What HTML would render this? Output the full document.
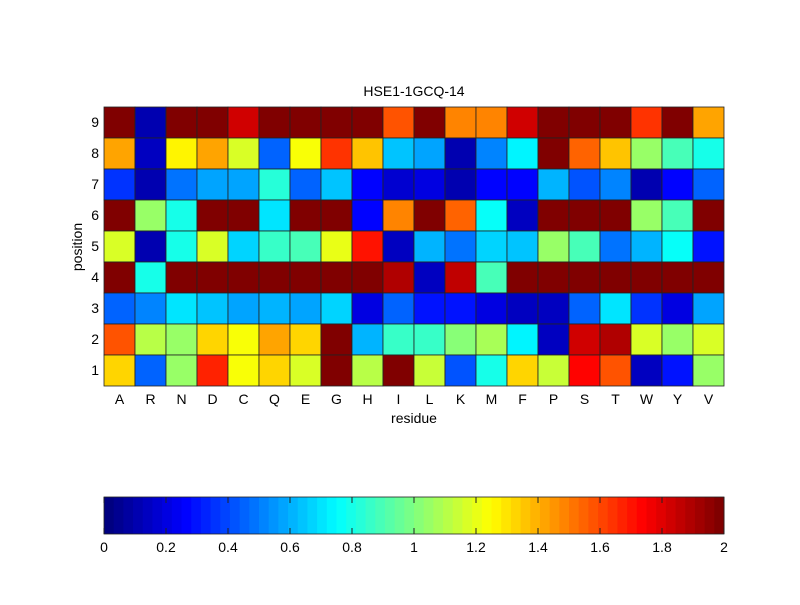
<!DOCTYPE html>
<html><head><meta charset="utf-8"><style>
body{margin:0;background:#fff;}
svg text{font-family:"Liberation Sans",Arial,sans-serif;font-size:14px;fill:#000;}
</style></head><body>
<svg id="s" width="800" height="600" xmlns="http://www.w3.org/2000/svg">
<rect width="800" height="600" fill="#fff"/>
<text x="414" y="96" text-anchor="middle">HSE1-1GCQ-14</text>
<text x="414" y="423" text-anchor="middle">residue</text>
<text transform="translate(82,247) rotate(-90)" text-anchor="middle">position</text>
<g id="g"></g>
</svg>
<script>
function jet(t){if(t>0.15&&t<0.5)t-=0.03;t=Math.max(0,Math.min(1,t));t=Math.round(t*63)/63;
function c(v){return Math.round(255*Math.max(0,Math.min(1,v)));}
return 'rgb('+c(1.5-Math.abs(4*t-3))+','+c(1.5-Math.abs(4*t-2))+','+c(1.5-Math.abs(4*t-1))+')';}
function jc(t){t=Math.round(t*63)/63;function c(v){return Math.round(255*Math.max(0,Math.min(1,v)));}
return 'rgb('+c(1.5-Math.abs(4*t-3))+','+c(1.5-Math.abs(4*t-2))+','+c(1.5-Math.abs(4*t-1))+')';}
var rows=[
[1,.05,1,1,.92,1,1,1,1,.8,1,.75,.75,.92,1,1,1,.83,1,.72],
[.72,.06,.63,.72,.58,.25,.62,.83,.68,.35,.32,.05,.28,.4,1,.78,.68,.52,.48,.42],
[.2,.05,.27,.32,.31,.44,.25,.35,.16,.08,.1,.05,.12,.12,.33,.23,.28,.05,.13,.25],
[1,.52,.43,1,1,.38,1,1,.12,.74,1,.78,.41,.07,1,1,1,.52,.47,1],
[.58,.05,.43,.58,.36,.46,.48,.6,.85,.06,.33,.27,.36,.34,.52,.48,.27,.33,.41,.15],
[1,.43,1,1,1,1,1,1,1,.95,.06,.93,.47,1,1,1,1,1,1,1],
[.26,.28,.38,.35,.32,.33,.31,.37,.1,.25,.17,.14,.09,.07,.07,.25,.38,.2,.09,.32],
[.79,.56,.52,.66,.62,.72,.66,1,.33,.46,.46,.5,.54,.39,.07,.92,.95,.58,.53,.58],
[.67,.26,.53,.84,.62,.66,.58,1,.55,1,.57,.23,.43,.66,.57,.87,.8,.06,.14,.53]];
var L="ARNDCQEGHILKMFPSTWYV";
var h='',x0=104,y0=107,w=31,hh=31;
for(var r=0;r<9;r++)for(var c=0;c<20;c++)
h+='<rect x="'+(x0+c*w)+'" y="'+(y0+r*hh)+'" width="'+w+'" height="'+hh+'" fill="'+jet(rows[r][c])+'" stroke="#222" stroke-width="0.8"/>';
for(var c=0;c<20;c++)h+='<text x="'+(x0+c*w+15.5)+'" y="404" text-anchor="middle">'+L[c]+'</text>';
for(var r=0;r<9;r++)h+='<text x="99" y="'+(y0+r*hh+20)+'" text-anchor="end">'+(9-r)+'</text>';
for(var i=0;i<64;i++)h+='<rect x="'+(104+i*620/64)+'" y="497" width="'+(620/64+0.5)+'" height="37" fill="'+jc(i/63)+'"/>';
h+='<rect x="104" y="497" width="620" height="37" fill="none" stroke="#222" stroke-width="0.8"/>';
for(var k=0;k<=10;k++){var x=104+k*62;var lab=(k*0.2).toFixed(1).replace(/\.0$/,'');if(k==0)lab='0';
h+='<line x1="'+x+'" y1="497" x2="'+x+'" y2="503" stroke="#222"/><line x1="'+x+'" y1="534" x2="'+x+'" y2="528" stroke="#222"/>';
h+='<text x="'+x+'" y="552" text-anchor="middle">'+lab+'</text>';}
document.getElementById('g').innerHTML=h;
</script>
</body></html>
